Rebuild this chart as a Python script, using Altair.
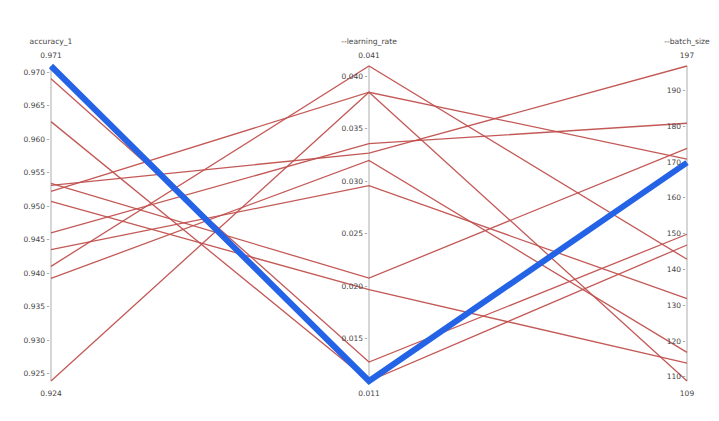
import altair as alt
import pandas as pd

dims = ["accuracy_1", "--learning_rate", "--batch_size"]
accuracy = [0.971, 0.9691, 0.9627, 0.9535, 0.9532, 0.9523, 0.9508, 0.9461, 0.9436, 0.9411, 0.9393, 0.924]
learning_rate = [0.011, 0.0128, 0.011, 0.0208, 0.0327, 0.0385, 0.0197, 0.0336, 0.0296, 0.041, 0.032, 0.0385]
batch_size = [170, 150, 147, 174, 197, 109, 114, 181, 132, 143, 117, 171]
highlight = [True] + [False] * 11

acc_ticks = [0.925, 0.930, 0.935, 0.940, 0.945, 0.950, 0.955, 0.960, 0.965, 0.970]
lr_ticks = [0.015, 0.020, 0.025, 0.030, 0.035, 0.040]
bs_ticks = [110, 120, 130, 140, 150, 160, 170, 180, 190]
acc_range = [0.924, 0.971]
lr_range = [0.011, 0.041]
bs_range = [109, 197]

cols = [accuracy, learning_rate, batch_size]
ranges = [acc_range, lr_range, bs_range]
ticks = [acc_ticks, lr_ticks, bs_ticks]
fmts = ["{:.3f}", "{:.3f}", "{:d}"]
range_fmts = ["{:.3f}", "{:.3f}", "{:d}"]

def norm(v, r):
    return (v - r[0]) / (r[1] - r[0])

rows = []
for i in range(len(accuracy)):
    for d in range(3):
        rows.append({"id": i, "d": d, "y": norm(cols[d][i], ranges[d]), "hl": highlight[i]})
lines = pd.DataFrame(rows)

tick_rows = []
for d in range(3):
    for t in ticks[d]:
        tick_rows.append({"d": d, "y": norm(t, ranges[d]), "label": fmts[d].format(t)})
tick_df = pd.DataFrame(tick_rows)

axis_df = pd.DataFrame({"d": [0, 1, 2], "y0": [0, 0, 0], "y1": [1, 1, 1], "title": dims,
                        "top": [range_fmts[d].format(ranges[d][1]) for d in range(3)],
                        "bottom": [range_fmts[d].format(ranges[d][0]) for d in range(3)]})

W, H = 636, 315
xs = alt.Scale(domain=[0, 2], nice=False, zero=False)
ys = alt.Scale(domain=[0, 1], nice=False, zero=False)
X = alt.X("d:Q", scale=xs, axis=None)
FONT = "DejaVu Sans"
TXT = "#444444"

base_lines = alt.Chart(lines).transform_filter("!datum.hl").mark_line(
    color="#c0504d", strokeWidth=1.3, opacity=0.95
).encode(x=X, y=alt.Y("y:Q", scale=ys, axis=None), detail="id:N")

hl_lines = alt.Chart(lines).transform_filter("datum.hl").mark_line(
    color="#2563e6", strokeWidth=6, strokeCap="butt", strokeJoin="miter"
).encode(x=X, y=alt.Y("y:Q", scale=ys, axis=None), detail="id:N")

axis_lines = alt.Chart(axis_df).mark_rule(color="#c8c8c8", strokeWidth=1.5).encode(
    x=X, y=alt.Y("y0:Q", scale=ys, axis=None), y2="y1:Q")

tick_marks = alt.Chart(tick_df).mark_text(text="-", fontSize=8, color="#888888", dx=-3, font=FONT).encode(
    x=X, y=alt.Y("y:Q", scale=ys, axis=None))

tick_labels = alt.Chart(tick_df).mark_text(align="right", baseline="middle", dx=-6, fontSize=7.5,
                                           color=TXT, font=FONT).encode(
    x=X, y=alt.Y("y:Q", scale=ys, axis=None), text="label:N")

titles = alt.Chart(axis_df).mark_text(align="center", baseline="middle", dy=-24, fontSize=7.6,
                                      color=TXT, font=FONT).encode(
    x=X, y=alt.Y("y1:Q", scale=ys, axis=None), text="title:N")

top_labels = alt.Chart(axis_df).mark_text(align="center", baseline="middle", dy=-10.5, fontSize=7.5,
                                          color=TXT, font=FONT).encode(
    x=X, y=alt.Y("y1:Q", scale=ys, axis=None), text="top:N")

bottom_labels = alt.Chart(axis_df).mark_text(align="center", baseline="middle", dy=13, fontSize=7.5,
                                             color=TXT, font=FONT).encode(
    x=X, y=alt.Y("y0:Q", scale=ys, axis=None), text="bottom:N")

chart = alt.layer(axis_lines, tick_marks, base_lines, hl_lines, tick_labels, titles, top_labels,
                  bottom_labels).properties(
    width=W, height=H,
    autosize=alt.AutoSizeParams(type="none"),
    padding={"left": 43, "top": 58, "right": 24, "bottom": 32},
    background="white",
).configure_view(stroke=None)

chart.save("out.html", embed_options={"renderer": "svg", "actions": False})
